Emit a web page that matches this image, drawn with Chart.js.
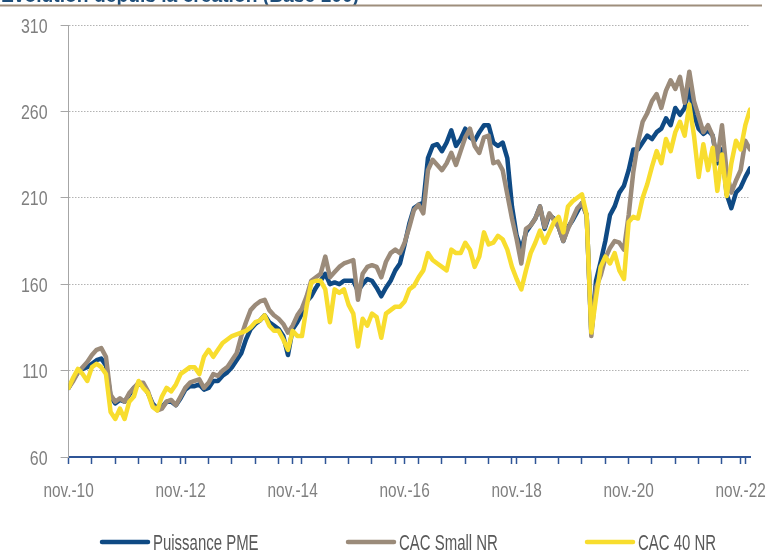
<!DOCTYPE html>
<html>
<head>
<meta charset="utf-8">
<script src="https://cdn.jsdelivr.net/npm/chart.js@4.4.0/dist/chart.umd.min.js"></script>
<style>
  body { margin: 0; background: #fff; }
  #wrap { width: 767px; height: 550px; position: relative; }
</style>
</head>
<body>
<div id="wrap"><canvas id="chart"></canvas></div>
<script>
// x = months since nov. 2010 (one reading per month)
const months = []
for (let i = 0; i <= 146; i++) months.push(i)

const puissancePME = [
  100, 105, 109, 111, 112, 114, 116, 117, 113, 95,
  91, 93, 92, 96, 100, 102, 102, 97, 91, 88,
  89, 92, 92, 90, 94, 99, 101, 101, 102, 99,
  100, 104, 104, 107, 109, 112, 116, 120, 128, 134,
  137, 139, 142, 138, 136, 134, 130, 119, 134, 138,
  143, 150, 153, 158, 162, 166, 160, 161, 160, 162,
  162, 162, 156, 160, 163, 162, 158, 153, 158, 162,
  168, 172, 183, 195, 204, 206, 207, 233, 240, 241,
  237, 242, 249, 240, 244, 250, 245, 243, 248, 252,
  252, 242, 240, 242, 233, 205, 188, 180, 190, 194,
  198, 205, 192, 200, 198, 193, 185, 193, 197, 202,
  207, 200, 132, 162, 173, 185, 200, 205, 213, 217,
  226, 238, 238, 242, 246, 244, 248, 250, 256, 252,
  262, 258, 262, 274, 258, 250, 247, 249, 246, 230,
  238, 212, 204, 213, 216, 222, 227
]

const cacSmallNR = [
  100, 104, 109, 112, 115, 119, 122, 123, 118, 96,
  92, 94, 92, 97, 100, 103, 103, 98, 90, 87,
  88, 92, 93, 90, 95, 100, 103, 104, 105, 100,
  103, 108, 107, 110, 112, 116, 120, 130, 138, 145,
  148, 150, 151, 145, 142, 140, 137, 132, 136, 142,
  146, 153, 162, 164, 166, 176, 164, 167, 170, 172,
  173, 174, 151, 166, 170, 171, 170, 164, 173, 178,
  180, 178, 184, 193, 203, 206, 201, 226, 232, 229,
  226, 230, 236, 229, 237, 245, 250, 240, 236, 245,
  246, 230, 231, 226, 212, 198, 186, 172, 192, 194,
  198, 205, 193, 201, 197, 193, 185, 192, 198, 204,
  207, 200, 130, 158, 165, 175, 181, 185, 184, 180,
  200, 225, 242, 254, 259, 266, 270, 262, 272, 278,
  273, 280, 265, 283, 266, 257, 248, 252, 246, 232,
  252, 225, 213, 220, 226, 243, 238
]

const cac40NR = [
  100, 106, 111, 108, 104, 112, 114, 112, 108, 86,
  82, 88, 82, 92, 95, 104, 100, 97, 89, 87,
  95, 100, 98, 102, 108, 110, 112, 112, 108, 118,
  122, 118, 122, 126, 128, 130, 131, 132, 133, 135,
  138, 139, 142, 136, 133, 133, 128, 122, 133, 130,
  130, 147, 161, 162, 162, 157, 138, 157, 155, 157,
  148, 143, 124, 140, 136, 143, 141, 129, 143, 145,
  147, 147, 150, 157, 159, 164, 168, 178, 174, 172,
  170, 168, 180, 178, 178, 184, 180, 170, 176, 190,
  183, 184, 188, 186, 180, 170, 163, 157, 168, 178,
  184, 191, 184, 190, 196, 199, 190, 205, 208, 210,
  212, 200, 132, 152, 170, 176, 172, 178, 168, 163,
  196, 199, 198, 210, 218, 228, 237, 230, 244, 237,
  248, 254, 246, 264, 246, 222, 241, 226, 239, 214,
  235, 211, 230, 243, 238, 252, 261
]

const seriesNames = ['Puissance PME', 'CAC Small NR', 'CAC 40 NR']
const seriesColors = ['#0f4a84', '#9b8b7a', '#f8dd2e']

const tickMonths = [0, 24, 48, 72, 96, 120, 144]
const tickLabels = ['nov.-10', 'nov.-12', 'nov.-14', 'nov.-16', 'nov.-18', 'nov.-20', 'nov.-22']
const minorStep = 5

const TITLE = 'Evolution depuis la création (Base 100)'
// no narrow font installed: draw Liberation Sans squeezed horizontally
const FONT = "'Liberation Sans', Arial, sans-serif"

const xTicks = tickMonths.slice()
for (let m = minorStep; m <= 146; m += minorStep) {
    if (xTicks.indexOf(m) < 0) xTicks.push(m)
}
xTicks.sort((a, b) => a - b)

function narrowText(ctx, text, x, y, align, sx) {
    ctx.save()
    ctx.translate(x, y)
    ctx.scale(sx, 1)
    ctx.textAlign = align
    ctx.fillText(text, 0, 0)
    ctx.restore()
}

const headerPlugin = {
    id: 'header',
    afterDraw(chart) {
        const ctx = chart.ctx
        ctx.save()
        ctx.fillStyle = '#1f4e79'
        ctx.font = 'bold 21px ' + FONT
        ctx.textBaseline = 'alphabetic'
        const w = ctx.measureText(TITLE).width
        narrowText(ctx, TITLE, 1, 2, 'left', 358 / w)
        ctx.fillStyle = '#9e8e7c'
        ctx.fillRect(0, 4.5, 762, 2)
        ctx.restore()
    }
}

const tickLabelPlugin = {
    id: 'tickLabels',
    afterDraw(chart) {
        const ctx = chart.ctx
        const xs = chart.scales.x
        const ys = chart.scales.y
        ctx.save()
        ctx.fillStyle = '#7f7f7f'
        ctx.textBaseline = 'alphabetic'
        ctx.font = '21px ' + FONT
        ys.ticks.forEach(t => {
            narrowText(ctx, String(t.value), ys.right - 21, ys.getPixelForValue(t.value) + 7.5, 'right', 0.76)
        })
        ctx.font = '20px ' + FONT
        xs.ticks.forEach(t => {
            const k = tickMonths.indexOf(t.value)
            if (k >= 0) narrowText(ctx, tickLabels[k], xs.getPixelForValue(t.value), xs.top + 39.5, 'center', 0.77)
        })
        ctx.restore()
    }
}

const legendPlugin = {
    id: 'bottomLegend',
    afterDraw(chart) {
        const ctx = chart.ctx
        const starts = [100, 346, 585]
        const y = 542
        ctx.save()
        ctx.font = '22px ' + FONT
        ctx.textBaseline = 'alphabetic'
        ctx.lineCap = 'round'
        chart.data.datasets.forEach((ds, i) => {
            ctx.strokeStyle = ds.borderColor
            ctx.lineWidth = 4.5
            ctx.beginPath()
            ctx.moveTo(starts[i] + 2, y)
            ctx.lineTo(starts[i] + 48, y)
            ctx.stroke()
            ctx.fillStyle = '#595959'
            narrowText(ctx, ds.label, starts[i] + 53, 549.5, 'left', 0.68)
        })
        ctx.restore()
    }
}

const series = [puissancePME, cacSmallNR, cac40NR]
const datasets = series.map((values, i) => ({
    label: seriesNames[i],
    data: values,
    borderColor: seriesColors[i],
    backgroundColor: seriesColors[i],
    borderWidth: 4.5,
    pointRadius: 0,
    tension: 0,
    borderJoinStyle: 'round',
    borderCapStyle: 'round',
    order: 2 - i
}))

new Chart(document.getElementById('chart'), {
    type: 'line',
    data: { labels: months, datasets: datasets },
    options: {
        animation: false,
        responsive: true,
        maintainAspectRatio: false,
        layout: { padding: { top: 25, left: 18.6, right: 17, bottom: 43 } },
        plugins: { legend: { display: false }, tooltip: { enabled: false } },
        scales: {
            x: {
                type: 'linear',
                min: 0,
                max: 146,
                afterBuildTicks: s => { s.ticks = xTicks.map(v => ({ value: v })) },
                afterFit: s => { s.height = 50 },
                ticks: { display: false, autoSkip: false, maxRotation: 0 },
                grid: { drawOnChartArea: false, tickLength: 7, tickColor: '#2f5597', tickWidth: 1.5 },
                border: { color: '#2f5597', width: 2 }
            },
            y: {
                min: 60,
                max: 310,
                afterFit: s => { s.width = 50 },
                ticks: { display: false, stepSize: 50 },
                grid: {
                    color: c => (c.tick && c.tick.value === 60) ? 'rgba(0,0,0,0)' : '#b3b3b3',
                    tickColor: '#a6a6a6', tickLength: 8, lineWidth: 1
                },
                border: { color: '#a6a6a6', width: 1, dash: [1.5, 1.5] }
            }
        }
    },
    plugins: [headerPlugin, tickLabelPlugin, legendPlugin]
})
</script>
</body>
</html>
